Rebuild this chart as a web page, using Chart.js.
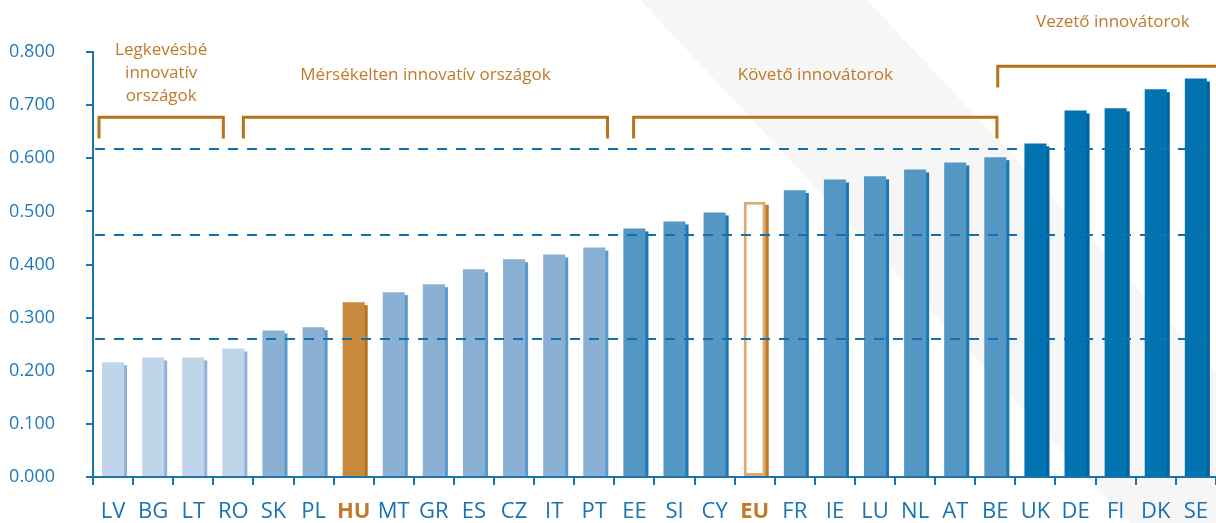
<!doctype html>
<html>
<head>
    <title>Innováció</title>
    <script src="https://cdn.jsdelivr.net/npm/chart.js"></script>
    <style>
        html, body { margin: 0; padding: 0; background: #fff; overflow: hidden; }
        .wrap { position: relative; width: 1222px; height: 523px; }
        .savok { position: absolute; left: 0; top: 0; width: 1222px; height: 523px; background: #f6f6f6;
            clip-path: polygon(640px 0, 867px 0, 1357px 523px, 1130px 523px); }
        canvas { position: relative; }
    </style>
</head>
<body>
    <div class="wrap">
        <div class="savok"></div>
        <canvas id="grafikon" width="1222" height="523"></canvas>
    </div>

    <script>
        var orszagok = ['LV', 'BG', 'LT', 'RO', 'SK', 'PL', 'HU', 'MT', 'GR', 'ES', 'CZ', 'IT', 'PT', 'EE',
            'SI', 'CY', 'EU', 'FR', 'IE', 'LU', 'NL', 'AT', 'BE', 'UK', 'DE', 'FI', 'DK', 'SE'];
        var ertekek = [0.216, 0.225, 0.225, 0.242, 0.276, 0.282, 0.329, 0.348, 0.363, 0.391, 0.410, 0.419, 0.432, 0.468,
            0.481, 0.498, 0.518, 0.540, 0.560, 0.566, 0.579, 0.592, 0.602, 0.628, 0.690, 0.694, 0.730, 0.750];
        // csoport: 0 legkevésbé, 1 mérsékelten, 2 követő, 3 vezető, 'HU', 'EU'
        var csoport = [0, 0, 0, 0, 1, 1, 'HU', 1, 1, 1, 1, 1, 1, 2, 2, 2, 'EU', 2, 2, 2, 2, 2, 2, 3, 3, 3, 3, 3];
        var hatarok = [0.618, 0.456, 0.259];
        var yTicks = [0, 0.1, 0.2, 0.3, 0.4, 0.5, 0.6, 0.7, 0.8];
        var csoportNevek = [['Legkevésbé', 'innovatív', 'országok'], ['Mérsékelten innovatív országok'],
            ['Követő innovátorok'], ['Vezető innovátorok']];

        var szinek = { 0: '#c0d5ea', 1: '#8ab1d4', 2: '#5497c5', 3: '#0073b0', HU: '#c98a3e', EU: '#ffffff' };
        var arnyek = { 0: '#8fb4d8', 1: '#5a9acb', 2: '#1a79b5', 3: '#00639f', HU: '#b8731e', EU: '#c07a28' };
        var narancs = '#c07a2a';
        var kek = '#1a72b0';

        var arnyekPlugin = {
            id: 'arnyek',
            beforeDatasetsDraw(chart) {
                var ctx = chart.ctx;
                var meta = chart.getDatasetMeta(0);
                ctx.save();
                meta.data.forEach((bar, i) => {
                    ctx.fillStyle = arnyek[csoport[i]];
                    ctx.fillRect(bar.x - bar.width / 2 + 3, bar.y + 3, bar.width, bar.base - bar.y - 3);
                });
                ctx.restore();
            },
            afterDatasetsDraw(chart) {
                var ctx = chart.ctx;
                var area = chart.chartArea;
                var ys = chart.scales.y;
                ctx.save();
                ctx.strokeStyle = '#1470ad';
                ctx.lineWidth = 2;
                ctx.setLineDash([10, 9]);
                hatarok.forEach(h => {
                    var y = Math.round(ys.getPixelForValue(h));
                    ctx.beginPath();
                    ctx.moveTo(area.left + 2, y);
                    ctx.lineTo(area.right, y);
                    ctx.stroke();
                });
                ctx.restore();
            },
            afterDraw(chart) {
                var ctx = chart.ctx;
                var xs = chart.scales.x;
                var ys = chart.scales.y;
                var cat = xs.width / orszagok.length;
                var xp = f => xs.left + f * cat;
                // [kezdet, vég, felső érték, láb alja érték, szöveg y]
                var zarojelek = [
                    [0.15, 3.25, 0.677, 0.637, 50],
                    [3.75, 12.83, 0.677, 0.637, 75],
                    [13.48, 22.54, 0.677, 0.637, 75],
                    [22.56, 28.3, 0.773, 0.733, 22]
                ];
                ctx.save();
                ctx.strokeStyle = '#b8731c';
                ctx.lineWidth = 3;
                ctx.fillStyle = narancs;
                ctx.font = '17px "Open Sans"';
                ctx.textAlign = 'center';
                ctx.textBaseline = 'middle';
                zarojelek.forEach((z, i) => {
                    var x1 = xp(z[0]), x2 = xp(z[1]);
                    var yt = ys.getPixelForValue(z[2]), yb = ys.getPixelForValue(z[3]);
                    ctx.beginPath();
                    ctx.moveTo(x1, yb);
                    ctx.lineTo(x1, yt);
                    ctx.lineTo(x2, yt);
                    ctx.lineTo(x2, yb);
                    ctx.stroke();
                    csoportNevek[i].forEach((sor, j) => {
                        ctx.fillText(sor, (x1 + x2) / 2, z[4] + j * 23);
                    });
                });
                ctx.restore();
            }
        };

        var grafikon = new Chart(document.getElementById('grafikon').getContext('2d'), {
            type: 'bar',
            data: {
                labels: orszagok,
                datasets: [{
                    data: ertekek,
                    backgroundColor: csoport.map(c => szinek[c]),
                    borderColor: csoport.map(c => c == 'EU' ? '#dcaa74' : 'rgba(0,0,0,0)'),
                    borderWidth: csoport.map(c => c == 'EU' ? 3 : 0),
                    borderSkipped: false,
                    barPercentage: 0.55,
                    categoryPercentage: 1.0
                }]
            },
            options: {
                responsive: false,
                animation: false,
                events: [],
                layout: { padding: { top: 52, left: 0, right: 0, bottom: 0 } },
                plugins: {
                    legend: { display: false },
                    tooltip: { enabled: false }
                },
                scales: {
                    x: {
                        z: 1,
                        afterFit: s => { s.height = 46; },
                        border: { color: kek, width: 2 },
                        grid: { offset: true, drawOnChartArea: false, tickLength: 8, color: kek, lineWidth: 2 },
                        ticks: {
                            padding: 14,
                            color: c => (orszagok[c.index] == 'HU' || orszagok[c.index] == 'EU') ? narancs : kek,
                            font: c => ({ family: '"Open Sans"', size: 22,
                                weight: (orszagok[c.index] == 'HU' || orszagok[c.index] == 'EU') ? 'bold' : 'normal' })
                        }
                    },
                    y: {
                        min: 0,
                        max: 0.8,
                        afterFit: s => { s.width = 93; },
                        afterBuildTicks: s => { s.ticks = yTicks.map(v => ({ value: v })); },
                        border: { color: kek, width: 2 },
                        grid: { drawOnChartArea: false, tickLength: 7, color: kek, lineWidth: 2 },
                        ticks: {
                            padding: 31,
                            color: '#1f7ab8',
                            font: { family: '"Open Sans"', size: 18 },
                            callback: v => Number(v).toFixed(3)
                        }
                    }
                }
            },
            plugins: [arnyekPlugin]
        });
    </script>
</body>
</html>
